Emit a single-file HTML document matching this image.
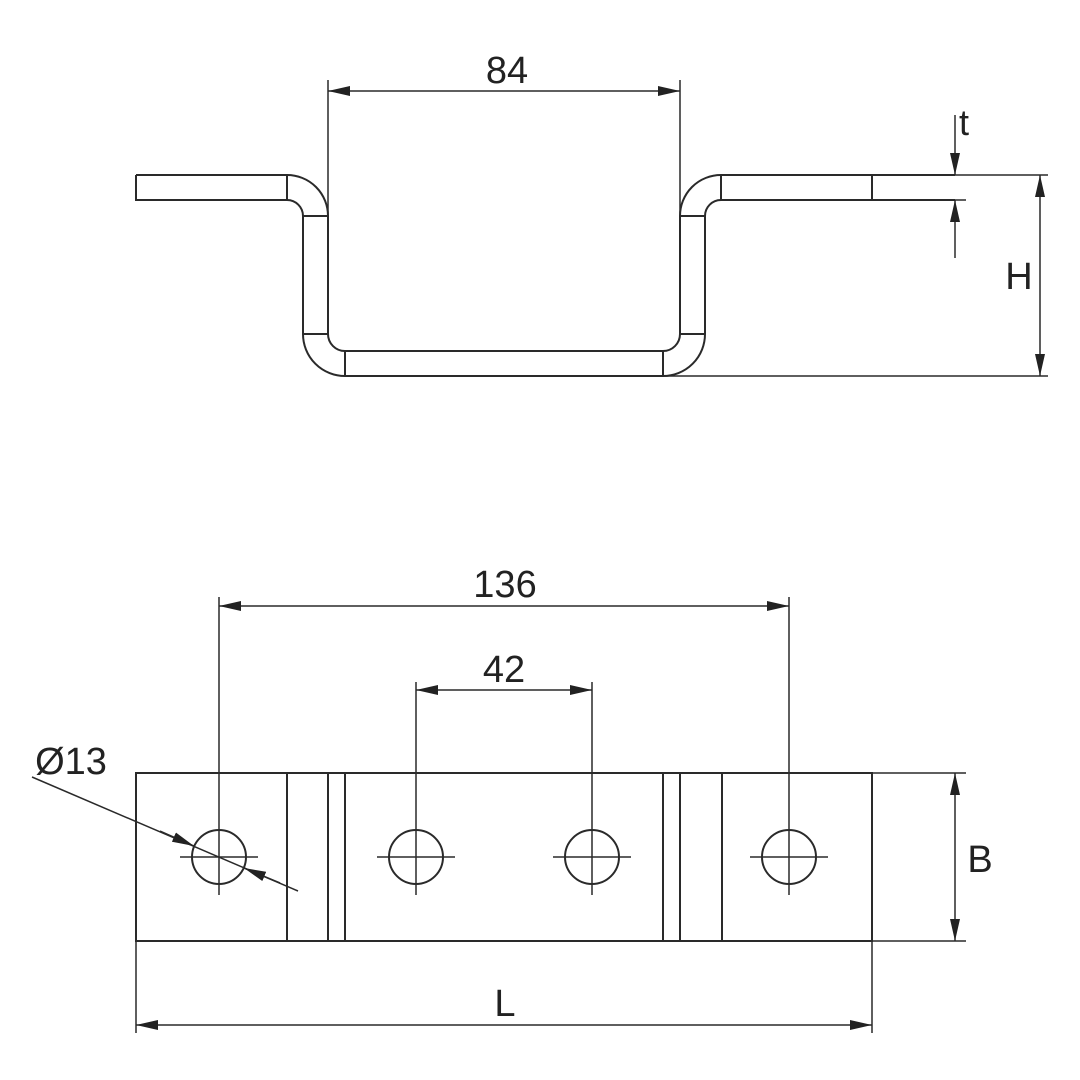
<!DOCTYPE html>
<html><head><style>html,body{margin:0;padding:0;background:#fff}svg{display:block}</style></head>
<body>
<svg width="1080" height="1080" viewBox="0 0 1080 1080" xmlns="http://www.w3.org/2000/svg">
<defs>
<marker id="a" viewBox="0 0 22 10" refX="22" refY="5" markerWidth="22" markerHeight="10" markerUnits="userSpaceOnUse" orient="auto-start-reverse"><path d="M0,0 L22,5 L0,10 Z" fill="#222"/></marker>
<marker id="s" viewBox="0 0 16 8" refX="16" refY="4" markerWidth="16" markerHeight="8" markerUnits="userSpaceOnUse" orient="auto"><path d="M0,0 L16,4 L0,8 Z" fill="#222"/></marker>
</defs>
<g fill="none" stroke="#2a2a2a" stroke-width="2">
<!-- profile outline -->
<path d="M136,175 H287 A41,41 0 0 1 328,216 V334 A17,17 0 0 0 345,351 H663 A17,17 0 0 0 680,334 V216 A41,41 0 0 1 721,175 H955"/>
<path d="M136,175 V200 H287 A16,16 0 0 1 303,216 V334 A42,42 0 0 0 345,376 H663 A42,42 0 0 0 705,334 V216 A16,16 0 0 1 721,200 H955"/>
<path d="M287,175 V200 M303,216 H328 M303,334 H328 M345,351 V376 M663,351 V376 M680,334 H705 M680,216 H705 M721,175 V200 M872,175 V200"/>
</g>
<g fill="none" stroke="#2a2a2a" stroke-width="1.5">
<!-- 84 -->
<path d="M328,80 V216 M680,80 V216"/>
<line x1="328" y1="91" x2="680" y2="91" marker-start="url(#a)" marker-end="url(#a)"/>
<!-- t -->
<path d="M955,175 H1048 M955,200 H966 M663,376 H1048"/>
<line x1="955" y1="115" x2="955" y2="175" marker-end="url(#a)"/>
<line x1="955" y1="258" x2="955" y2="200" marker-end="url(#a)"/>
<!-- H -->
<line x1="1040" y1="175" x2="1040" y2="376" marker-start="url(#a)" marker-end="url(#a)"/>
</g>
<g fill="none" stroke="#2a2a2a" stroke-width="2">
<rect x="136" y="773" width="736" height="168"/>
<path d="M287,773 V941 M328,773 V941 M345,773 V941 M663,773 V941 M680,773 V941 M722,773 V941"/>
<circle cx="219" cy="857" r="27"/><circle cx="416" cy="857" r="27"/><circle cx="592" cy="857" r="27"/><circle cx="789" cy="857" r="27"/>
</g>
<g fill="none" stroke="#2a2a2a" stroke-width="1.5">
<path d="M180,857 H258 M377,857 H455 M553,857 H631 M750,857 H828"/>
<path d="M219,597 V895 M789,597 V895 M416,682 V895 M592,682 V895"/>
<line x1="219" y1="606" x2="789" y2="606" marker-start="url(#a)" marker-end="url(#a)"/>
<line x1="416" y1="690" x2="592" y2="690" marker-start="url(#a)" marker-end="url(#a)"/>
<path d="M872,941 H966 M872,773 H966 M136,941 V1033 M872,941 V1033"/>
<line x1="955" y1="773" x2="955" y2="941" marker-start="url(#a)" marker-end="url(#a)"/>
<line x1="136" y1="1025" x2="872" y2="1025" marker-start="url(#a)" marker-end="url(#a)"/>
<line x1="32" y1="777" x2="298" y2="891"/>
<line x1="160" y1="831" x2="194" y2="846" marker-end="url(#a)"/>
<line x1="280" y1="883" x2="244" y2="868" marker-end="url(#a)"/>
</g>
<g font-family="Liberation Sans, sans-serif" font-size="38" fill="#222" text-anchor="middle">
<text x="507" y="83">84</text>
<text x="964" y="135" font-size="36">t</text>
<text x="1019" y="289">H</text>
<text x="505" y="597">136</text>
<text x="504" y="682">42</text>
<text x="71" y="774">Ø13</text>
<text x="980" y="872">B</text>
<text x="505" y="1016">L</text>
</g>
</svg>
</body></html>
